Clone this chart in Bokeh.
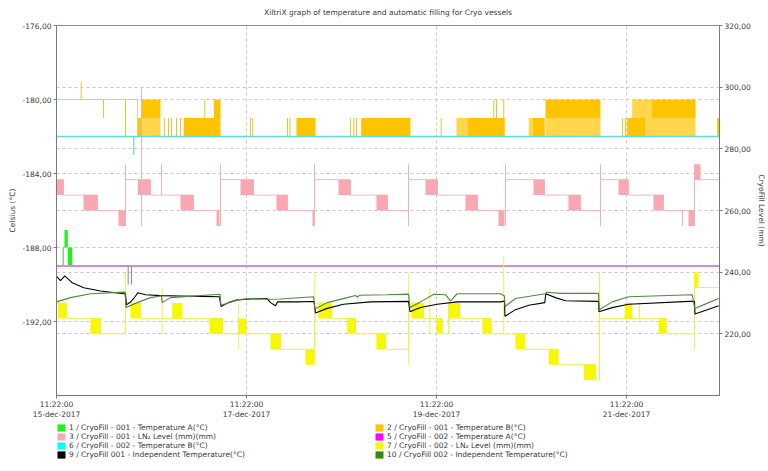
import pandas as pd
from bokeh.embed import file_html
from bokeh.layouts import column
from bokeh.models import FixedTicker, Grid, Legend, LegendItem, LinearAxis, Range1d
from bokeh.plotting import figure
from bokeh.resources import INLINE

# time axis: hours since the first tick
START = pd.Timestamp("2017-12-15 11:22:00")
END_H = 167.5

title = "XiltriX graph of temperature and automatic filling for Cryo vessels"
x_tick_h = [0, 48, 96, 144]
x_tick_labels = ["11:22:00\n15-dec-2017", "11:22:00\n17-dec-2017",
                 "11:22:00\n19-dec-2017", "11:22:00\n21-dec-2017"]
left_ticks = [-176, -180, -184, -188, -192]
left_tick_labels = ["-176,00", "-180,00", "-184,00", "-188,00", "-192,00"]
right_ticks = [320, 300, 280, 260, 240, 220]
right_tick_labels = ["320,00", "300,00", "280,00", "260,00", "240,00", "220,00"]

# step lines: (hour, value); blocks of fast toggling: (h0, h1, low, high); spikes: (hour, low, high)

# 1 / CryoFill - 001 - Temperature A  (left axis)
s1_step = [(0, -189), (END_H, -189)]
s1_blocks = [(2.02, 2.85, -188, -187.05), (2.85, 3.97, -189, -188)]
s1_spikes = [(1.69, -189, -188), (18.95, -190, -189)]

# 2 / CryoFill - 001 - Temperature B  (left axis)
s2_step = [(0, -180), (20.5, -182), (END_H, -182)]
s2_blocks = [(20.54, 21.65, -182, -181), (21.40, 26.27, -181, -180), (32.16, 41.43, -182, -181),
             (39.74, 41.43, -181, -180), (60.63, 65.43, -182, -181), (76.98, 89.43, -182, -181),
             (103.83, 112.17, -182, -181), (110.90, 113.25, -182, -181), (120.25, 123.36, -182, -181),
             (123.54, 137.43, -181, -180), (144.17, 148.79, -182, -181), (150.48, 161.43, -181, -180),
             (166.91, 167.49, -182, -181)]
s2_sparse = [(21.65, 26.27, -182, -181), (101.05, 103.83, -182, -181), (119.32, 120.25, -182, -181),
             (123.54, 137.43, -182, -181), (145.43, 150.48, -181, -180), (148.79, 161.43, -182, -181)]
s2_spikes = [(6.24, -180, -179.03), (11.87, -181, -180), (17.43, -182, -180), (27.28, -182, -181),
             (28.29, -182, -181), (29.05, -182, -181), (30.32, -182, -181), (31.33, -182, -181),
             (37.46, -181, -180), (49.01, -182, -181), (49.59, -182, -181), (58.36, -182, -181),
             (58.99, -182, -181), (74.27, -182, -181), (75.11, -182, -181), (75.79, -182, -181),
             (97.19, -182, -181), (110.48, -181, -180), (111.16, -181, -180), (113.00, -181, -180),
             (142.98, -182, -181), (143.74, -182, -181)]

# 3 / CryoFill - 001 - LN2 Level  (right axis)
s3_step = [(0, 270), (1.77, 265), (10.36, 260), (17.43, 270), (23.75, 265), (34.61, 260),
           (41.43, 270), (49.77, 265), (58.36, 260), (65.18, 270), (74.27, 265), (83.62, 260),
           (88.93, 270), (96.25, 265), (106.36, 260), (113.43, 270), (123.28, 265), (132.38, 260),
           (137.43, 270), (144.50, 265), (153.35, 260), (161.18, 270), (END_H, 270)]
s3_blocks = [(0, 1.77, 265, 270), (6.82, 10.36, 260, 265), (15.66, 17.43, 255, 260),
             (20.54, 23.75, 265, 270), (31.33, 34.61, 260, 265), (40.42, 41.18, 255, 260),
             (46.48, 49.77, 265, 270), (55.58, 58.36, 260, 265), (64.67, 65.18, 255, 260),
             (71.24, 74.27, 265, 270), (80.84, 83.62, 260, 265), (93.22, 96.25, 265, 270),
             (103.32, 106.36, 260, 265), (111.66, 113.18, 255, 260), (120.51, 123.28, 265, 270),
             (129.35, 132.38, 260, 265), (141.98, 144.50, 265, 270), (150.81, 153.35, 260, 265),
             (159.66, 161.18, 255, 260), (161.18, 162.69, 270, 275)]
s3_spikes = [(17.43, 255, 275), (21.47, 255, 300), (26.53, 265, 275), (41.43, 255, 275),
             (65.18, 255, 275), (88.93, 255, 275), (113.43, 255, 275), (137.43, 255, 275),
             (158.15, 255, 260), (161.18, 255, 275)]

# 5 / CryoFill - 002 - Temperature A  (left axis)
s5_step = [(0, -189), (END_H, -189)]
s5_spikes = [(18.11, -190, -189)]

# 6 / CryoFill - 002 - Temperature B  (left axis)
s6_step = [(0, -182), (END_H, -182)]
s6_spikes = [(19.53, -183, -182)]

# 7 / CryoFill - 002 - LN2 Level  (right axis)
s7_step = [(0, 230), (2.53, 225), (11.12, 220), (17.43, 230), (21.22, 225), (41.94, 220),
           (56.59, 215), (65.25, 230), (69.47, 225), (75.54, 220), (83.12, 215), (89.00, 230),
           (92.72, 225), (97.44, 220), (99.11, 230), (101.81, 225), (109.82, 220), (118.31, 215),
           (126.74, 210), (136.17, 205), (137.18, 225), (154.03, 220), (161.18, 235), (END_H, 235)]
s7_blocks = [(0.43, 2.53, 225, 230), (8.59, 11.12, 220, 225), (18.69, 21.22, 225, 230),
             (29.23, 31.75, 225, 230), (38.65, 41.94, 220, 225), (45.90, 48.00, 220, 225),
             (54.06, 56.59, 215, 220), (62.90, 65.18, 210, 215), (66.19, 69.47, 225, 230),
             (73.44, 75.54, 220, 225), (80.84, 83.12, 215, 220), (89.68, 92.72, 225, 230),
             (96.00, 97.44, 220, 225), (99.11, 101.81, 225, 230), (107.62, 109.82, 220, 225),
             (115.96, 118.31, 215, 220), (124.37, 126.74, 210, 215), (133.22, 136.17, 205, 210),
             (143.57, 145.43, 225, 230), (152.15, 154.03, 220, 225), (161.18, 162.19, 235, 240)]
s7_spikes = [(17.43, 220, 240), (26.70, 220, 235), (46.05, 215, 229.5), (65.25, 210, 239.5),
             (89.00, 210, 239.6), (94.31, 220, 235), (99.11, 220, 230), (113.00, 220, 245),
             (137.18, 205, 240), (147.28, 225, 230), (161.18, 215, 240)]

# 9 / CryoFill 001 - Independent Temperature  (left axis)
s9_h = [0, 1.01, 2.10, 3.97, 6.90, 11.12, 17.00, 17.43, 17.68, 18.69, 19.71, 20.54, 22.48, 26.27,
        31.33, 36.38, 41.18, 41.56, 43.45, 45.65, 49.01, 53.23, 54.06, 55.33, 55.83, 60.38, 65.05,
        65.43, 68.39, 72.50, 79.33, 88.93, 89.31, 91.96, 96.17, 101.23, 112.17, 113.18, 113.30,
        115.96, 119.32, 123.36, 123.61, 126.06, 128.59, 136.93, 137.05, 140.39, 144.57, 159.74,
        161.18, 161.30, 164.79, 167.31]
s9_v = [-189.56, -189.79, -189.53, -189.91, -190.18, -190.35, -190.50, -190.52, -191.10, -190.95,
        -190.70, -190.45, -190.55, -190.60, -190.62, -190.64, -190.66, -191.19, -190.98, -190.83,
        -190.78, -190.76, -190.98, -191.15, -190.94, -190.94, -190.92, -191.54, -191.29, -191.07,
        -190.94, -190.91, -191.47, -191.24, -191.07, -190.94, -190.94, -190.90, -191.72, -191.36,
        -191.12, -190.98, -190.50, -190.71, -190.88, -190.91, -191.47, -191.25, -191.07, -190.91,
        -190.91, -191.60, -191.34, -191.15]

# 10 / CryoFill 002 - Independent Temperature  (left axis)
s10_h = [0, 3.54, 8.59, 17.30, 17.56, 20.39, 23.75, 26.27, 26.53, 26.70, 28.80, 41.30, 41.56, 45.65,
         49.01, 54.06, 56.59, 64.93, 65.30, 68.39, 73.44, 75.54, 76.04, 76.55, 83.54, 88.93, 89.31,
         91.96, 95.32, 98.27, 99.54, 101.23, 112.17, 113.18, 113.30, 115.96, 123.54, 123.79, 127.33,
         136.93, 137.13, 140.39, 144.57, 160.60, 161.25, 164.79, 167.31]
s10_v = [-190.94, -190.71, -190.50, -190.41, -191.24, -190.98, -190.71, -190.62, -190.62, -190.98,
         -190.71, -190.53, -191.12, -190.83, -190.76, -190.80, -190.78, -190.66, -191.33, -190.98,
         -190.71, -190.59, -190.70, -190.58, -190.55, -190.52, -191.24, -190.94, -190.53, -190.55,
         -190.88, -190.50, -190.50, -190.62, -191.19, -190.76, -190.50, -190.42, -190.48, -190.48,
         -191.36, -190.94, -190.66, -190.55, -191.30, -190.98, -190.76]

labels = {
    1: "1 / CryoFill - 001 - Temperature A(°C)",
    2: "2 / CryoFill - 001 - Temperature B(°C)",
    3: "3 / CryoFill - 001 - LN\u2082 Level (mm)(mm)",
    5: "5 / CryoFill - 002 - Temperature A(°C)",
    6: "6 / CryoFill - 002 - Temperature B(°C)",
    7: "7 / CryoFill - 002 - LN\u2082 Level (mm)(mm)",
    9: "9 / CryoFill 001 - Independent Temperature(°C)",
    10: "10 / CryoFill 002 - Independent Temperature(°C)",
}
swatch_colors = {1: "#22ee22", 2: "#ffc400", 3: "#f8aab2", 5: "#ff00ff",
                 6: "#00ffff", 7: "#f8f800", 9: "#000000", 10: "#2e8b10"}
first_points = {1: (s1_step[0][0], s1_step[0][1]), 2: (s2_step[0][0], s2_step[0][1]),
                3: (s3_step[0][0], -189), 5: (s5_step[0][0], s5_step[0][1]),
                6: (s6_step[0][0], s6_step[0][1]), 7: (s7_step[0][0], -189),
                9: (s9_h[0], s9_v[0]), 10: (s10_h[0], s10_v[0])}

FONT = "DejaVu Sans"
TXT = "#3a3a3a"


def t(hours):
    return (START + pd.to_timedelta(list(hours), unit="h")).to_numpy()


def ms(h):
    return int((START + pd.Timedelta(hours=h)).timestamp() * 1000)


x_range = Range1d(t([0])[0], t([END_H])[0])
y_range = Range1d(-196, -176)

p = figure(width=768, height=422, x_axis_type="datetime", output_backend="svg",
           toolbar_location=None, title=title, x_range=x_range, y_range=y_range,
           min_border_left=56, min_border_right=49, min_border_top=23, min_border_bottom=22)
p.extra_y_ranges = {"level": Range1d(200, 320)}

p.title.align = "center"
p.title.vertical_align = "top"
p.title.text_font = FONT
p.title.text_font_size = "7.5px"
p.title.text_font_style = "normal"
p.title.text_color = TXT
p.title.standoff = 14
p.outline_line_color = "#8a8a8a"


def blocks(lst, color, alpha=1.0, rng="default"):
    return p.quad(left=t([b[0] for b in lst]), right=t([b[1] for b in lst]),
                  bottom=[b[2] for b in lst], top=[b[3] for b in lst],
                  fill_color=color, fill_alpha=alpha, line_color=None, y_range_name=rng)


def step(lst, color, rng="default", width=1):
    p.step(t([s[0] for s in lst]), [s[1] for s in lst], mode="after",
           line_color=color, line_width=width, y_range_name=rng)


def spikes(lst, color, rng="default"):
    x = t([s[0] for s in lst])
    p.segment(x0=x, x1=x, y0=[s[1] for s in lst], y1=[s[2] for s in lst],
              line_color=color, line_width=1, y_range_name=rng)


# 1 green
step(s1_step, "#22ee22")
blocks(s1_blocks, "#22ee22")
spikes(s1_spikes, "#3cc83c")
# 2 orange
step(s2_step, "#e8d060")
blocks(s2_blocks, "#ffc400")
blocks(s2_sparse, "#ffc400", alpha=0.7)
spikes(s2_spikes, "#f0c030")
# 3 pink (level)
step(s3_step, "#f2b8be", rng="level")
blocks(s3_blocks, "#f8a8b0", rng="level")
spikes(s3_spikes, "#e8b4b8", rng="level")
# 5 magenta
step(s5_step, "#d08cd4", width=1.8)
spikes(s5_spikes, "#b070b0")
# 6 cyan
step(s6_step, "#60dcdc", width=1.4)
spikes(s6_spikes, "#50c8d8")
# 7 yellow (level)
step(s7_step, "#ecec60", rng="level")
blocks(s7_blocks, "#f8f800", rng="level")
spikes(s7_spikes, "#eeee50", rng="level")
# 9 black
p.line(t(s9_h), s9_v, line_color="black", line_width=1.1)
# 10 dark green
p.line(t(s10_h), s10_v, line_color="#4f8a40", line_width=1.1)

# axes
x_ms = [ms(h) for h in x_tick_h]
ax = p.xaxis[0]
ax.ticker = FixedTicker(ticks=x_ms)
ax.major_label_overrides = dict(zip(x_ms, x_tick_labels))

ay = p.yaxis[0]
ay.ticker = FixedTicker(ticks=left_ticks)
ay.major_label_overrides = dict(zip(left_ticks, left_tick_labels))
ay.axis_label = "Celsius (°C)"

ar = LinearAxis(y_range_name="level", axis_label="CryoFill Level (mm)")
ar.ticker = FixedTicker(ticks=right_ticks)
ar.major_label_overrides = dict(zip(right_ticks, right_tick_labels))
p.add_layout(ar, "right")

for a in (ax, ay, ar):
    a.axis_line_color = "#7a7a7a"
    a.major_tick_line_color = "#7a7a7a"
    a.major_tick_out = 3
    a.major_tick_in = 0
    a.minor_tick_line_color = None
    a.major_label_text_font = FONT
    a.major_label_text_font_size = "7.5px"
    a.major_label_text_color = TXT
    a.major_label_standoff = 2
    a.axis_label_text_font = FONT
    a.axis_label_text_font_size = "7.5px"
    a.axis_label_text_font_style = "normal"
    a.axis_label_text_color = TXT
    a.axis_label_standoff = 3
ax.major_label_standoff = 1

# grids
grid_style = dict(grid_line_color="#c8c8c8", grid_line_dash="3 3", grid_line_width=1)
p.xgrid.ticker = FixedTicker(ticks=x_ms)
p.ygrid.ticker = FixedTicker(ticks=left_ticks)
for g in (p.xgrid[0], p.ygrid[0]):
    for k, v in grid_style.items():
        setattr(g, k, v)
p.add_layout(Grid(dimension=1, ticker=FixedTicker(ticks=right_ticks), y_range_name="level",
                  **grid_style))

# legend strip under the chart, row by row
lg = figure(width=768, height=49, output_backend="svg", toolbar_location=None,
            x_range=x_range, y_range=y_range, min_border=0)
lg.axis.visible = False
lg.grid.visible = False
lg.outline_line_color = None
order = [1, 2, 3, 5, 6, 7, 9, 10]
items = []
for k in order:
    h, v = first_points[k]
    # zero-size box at a series point: only there so the legend gets a filled swatch
    r = lg.quad(left=t([h]), right=t([h]), bottom=[v], top=[v],
                fill_color=swatch_colors[k], line_color=None)
    items.append(LegendItem(label=labels[k], renderers=[r]))
legend = Legend(items=items, orientation="horizontal", ncols=2, location=(0, 12),
                glyph_width=10, glyph_height=9, label_height=9, label_width=305,
                label_standoff=3, spacing=0, padding=0, margin=0,
                label_text_font=FONT, label_text_font_size="7.5px", label_text_color=TXT,
                border_line_color=None, background_fill_alpha=0)
lg.add_layout(legend)

open("out.html", "w").write(file_html(column(p, lg, spacing=0), INLINE))
